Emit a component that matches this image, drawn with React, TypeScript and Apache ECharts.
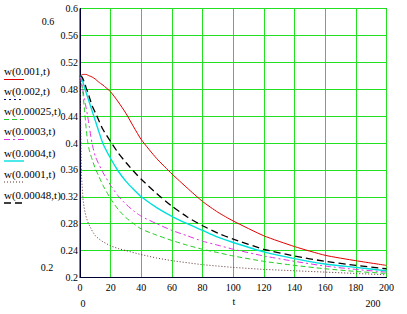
import React, { useEffect, useRef } from "react";
import * as echarts from "echarts";

// sample times t
const tValues = [0, 1, 2, 3, 4, 5, 6, 8, 10, 12, 15, 20, 25, 30, 35, 40, 50, 60, 70, 80, 90, 100, 120, 140, 160, 180, 200];

// w(a,t) curves
const w001 = [0.5, 0.501, 0.502, 0.502, 0.502, 0.501, 0.5, 0.498, 0.495, 0.491, 0.486, 0.476, 0.461, 0.444, 0.424, 0.405, 0.377, 0.354, 0.333, 0.313, 0.297, 0.284, 0.262, 0.246, 0.233, 0.225, 0.218];
const w00025 = [0.5, 0.49, 0.472, 0.448, 0.422, 0.402, 0.39, 0.375, 0.362, 0.352, 0.337, 0.317, 0.301, 0.289, 0.28, 0.272, 0.263, 0.255, 0.248, 0.242, 0.237, 0.232, 0.224, 0.218, 0.213, 0.209, 0.206];
const w0003 = [0.5, 0.49, 0.477, 0.465, 0.452, 0.44, 0.425, 0.398, 0.38, 0.37, 0.356, 0.337, 0.321, 0.309, 0.299, 0.291, 0.28, 0.27, 0.262, 0.254, 0.248, 0.242, 0.232, 0.224, 0.217, 0.212, 0.208];
const w0004 = [0.5, 0.497, 0.49, 0.482, 0.475, 0.468, 0.461, 0.447, 0.433, 0.419, 0.399, 0.377, 0.358, 0.343, 0.331, 0.32, 0.304, 0.291, 0.28, 0.27, 0.26, 0.252, 0.238, 0.228, 0.22, 0.215, 0.21];
const w0001 = [0.5, 0.35, 0.315, 0.3, 0.29, 0.283, 0.278, 0.269, 0.262, 0.258, 0.253, 0.247, 0.243, 0.24, 0.237, 0.234, 0.229, 0.225, 0.222, 0.219, 0.217, 0.215, 0.212, 0.21, 0.208, 0.206, 0.204];
const w00048 = [0.5, 0.499, 0.495, 0.489, 0.482, 0.476, 0.469, 0.455, 0.445, 0.435, 0.42, 0.402, 0.385, 0.371, 0.358, 0.346, 0.325, 0.306, 0.29, 0.277, 0.266, 0.257, 0.242, 0.232, 0.224, 0.218, 0.213];

// legend labels (in order shown)
const legendLabels = ["w(0.001,t)", "w(0.002,t)", "w(0.00025,t)", "w(0.0003,t)", "w(0.0004,t)", "w(0.0001,t)", "w(0.00048,t)"];

const xTicks = { min: 0, max: 200, interval: 20 };
const yTicks = { min: 0.2, max: 0.6, interval: 0.04 };

type Sty = { color: string; width: number; dash: number[] | "solid"; smooth: number | false };
const styles: Sty[] = [
  { color: "#e00000", width: 1, dash: "solid", smooth: 0.2 },
  { color: "#000080", width: 1, dash: [2, 3], smooth: false },
  { color: "#22cc22", width: 1, dash: [5, 3], smooth: 0.2 },
  { color: "#e030e0", width: 1, dash: [6, 3, 2, 3], smooth: 0.2 },
  { color: "#00dede", width: 1.4, dash: "solid", smooth: 0.2 },
  { color: "#603030", width: 1, dash: [1, 2], smooth: false },
  { color: "#000000", width: 1.3, dash: [7, 4], smooth: 0.2 },
];

// data arrays per legend entry (null = not visible in the plot)
const curveData: (number[] | null)[] = [w001, null, w00025, w0003, w0004, w0001, w00048];

const FONT = "'Liberation Serif', 'Times New Roman', serif";

export default function App() {
  const ref = useRef<HTMLDivElement>(null);
  useEffect(() => {
    document.body.style.margin = "0";
    const chart = echarts.init(ref.current!, null, { renderer: "svg" });
    const series: any[] = [];
    curveData.forEach((vals, i) => {
      if (!vals) return;
      const s = styles[i];
      series.push({
        type: "line",
        name: legendLabels[i],
        data: tValues.map((t, k) => [t, vals[k]]),
        showSymbol: false,
        smooth: s.smooth,
        lineStyle: { color: s.color, width: s.width, type: s.dash },
        z: 3,
      });
    });
    const legendTop = [71, 91, 111, 131, 152.5, 173.5, 194.5];
    const graphics: any[] = [];
    legendLabels.forEach((lab, i) => {
      const s = styles[i];
      graphics.push({
        type: "text",
        style: {
          text: lab,
          x: 4,
          y: legendTop[i],
          font: `11px ${FONT}`,
          fill: "#000",
          textAlign: "left",
          textVerticalAlign: "middle",
        },
      });
      graphics.push({
        type: "line",
        shape: { x1: 4, y1: legendTop[i] + 8.5, x2: 24, y2: legendTop[i] + 8.5 },
        style: {
          stroke: s.color,
          lineWidth: s.width,
          lineDash: s.dash === "solid" ? null : s.dash,
        },
      });
    });
    const extra = [
      { text: "0.6", x: 48, y: 21 },
      { text: "0.2", x: 47, y: 267 },
      { text: "0", x: 83, y: 303 },
      { text: "t", x: 234, y: 301 },
      { text: "200", x: 373, y: 303 },
    ];
    extra.forEach((e) =>
      graphics.push({
        type: "text",
        style: {
          text: e.text,
          x: e.x,
          y: e.y,
          font: `10px ${FONT}`,
          fill: "#000",
          textAlign: "center",
          textVerticalAlign: "middle",
        },
      })
    );

    chart.setOption({
      animation: false,
      backgroundColor: "#fff",
      grid: {
        left: 80,
        right: 20.5,
        top: 8.5,
        bottom: 36.5,
        show: true,
        borderColor: "#000",
        borderWidth: 1,
        backgroundColor: "transparent",
      },
      xAxis: {
        type: "value",
        min: xTicks.min,
        max: xTicks.max,
        interval: xTicks.interval,
        axisLine: { show: true, lineStyle: { color: "#000033", width: 1 } },
        axisTick: { show: false },
        splitLine: { show: true, lineStyle: { color: "#22e022", width: 1 } },
        axisLabel: { color: "#000", fontFamily: FONT, fontSize: 10, margin: 5 },
      },
      yAxis: {
        type: "value",
        min: yTicks.min,
        max: yTicks.max,
        interval: yTicks.interval,
        axisLine: { show: true, lineStyle: { color: "#000033", width: 1 } },
        axisTick: { show: false },
        splitLine: { show: true, lineStyle: { color: "#22e022", width: 1 } },
        axisLabel: {
          color: "#000",
          fontFamily: FONT,
          fontSize: 10,
          margin: 2,
          formatter: (v: number) => String(+v.toFixed(2)),
        },
      },
      series,
      graphic: graphics,
    });
    return () => chart.dispose();
  }, []);
  return <div ref={ref} style={{ width: 407, height: 314 }} />;
}
